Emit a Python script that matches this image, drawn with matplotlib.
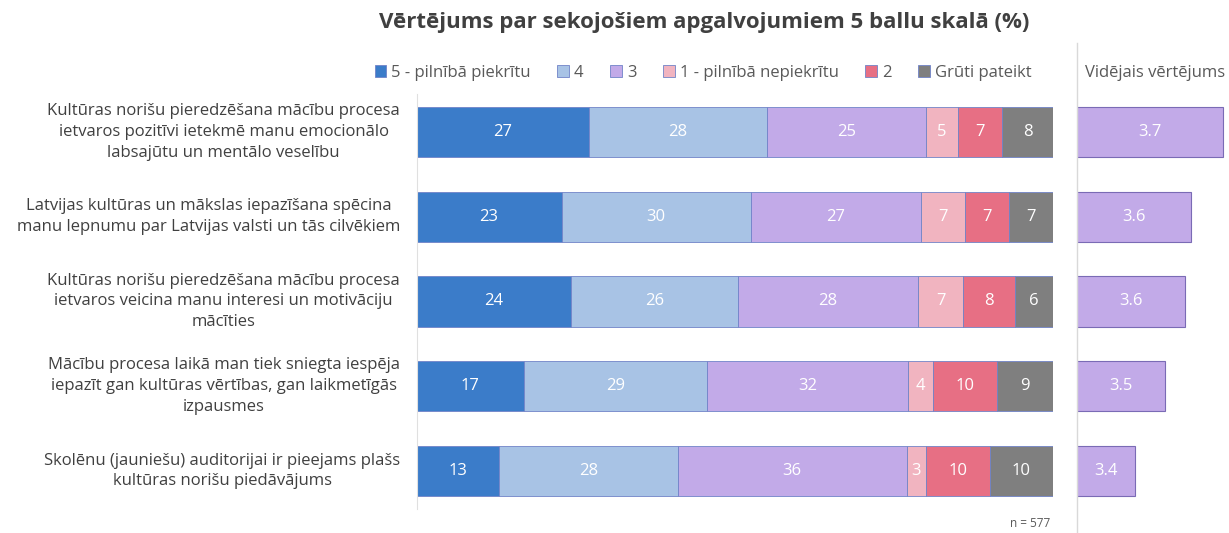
import numpy as np
import matplotlib
matplotlib.use('Agg')
from matplotlib import pyplot as plt
from matplotlib.lines import Line2D

plt.rcParams['font.family'] = ['Open Sans', 'DejaVu Sans']

statements = [
    'Kultūras norišu pieredzēšana mācību procesa\nietvaros pozitīvi ietekmē manu emocionālo\nlabsajūtu un mentālo veselību',
    'Latvijas kultūras un mākslas iepazīšana spēcina\nmanu lepnumu par Latvijas valsti un tās cilvēkiem',
    'Kultūras norišu pieredzēšana mācību procesa\nietvaros veicina manu interesi un motivāciju\nmācīties',
    'Mācību procesa laikā man tiek sniegta iespēja\niepazīt gan kultūras vērtības, gan laikmetīgās\nizpausmes',
    'Skolēnu (jauniešu) auditorijai ir pieejams plašs\nkultūras norišu piedāvājums',
]
categories = ['5 - pilnībā piekrītu', '4', '3', '1 - pilnībā nepiekrītu', '2', 'Grūti pateikt']
colors = ['#3b7cc9', '#a8c3e5', '#c2aae8', '#f1b4c0', '#e76f84', '#7f7f7f']

v5 = [27, 23, 24, 17, 13]
v4 = [28, 30, 26, 29, 28]
v3 = [25, 27, 28, 32, 36]
v1 = [5, 7, 7, 4, 3]
v2 = [7, 7, 8, 10, 10]
vgr = [8, 7, 6, 9, 10]
averages = [3.70, 3.59, 3.57, 3.50, 3.40]

data = np.array([v5, v4, v3, v1, v2, vgr], dtype=float)
shares = data / data.sum(axis=0) * 100

fig = plt.figure(figsize=(12.29, 5.33), dpi=100)
ax = fig.add_axes([0.339, 0.0366, 0.518, 0.7955])
ax2 = fig.add_axes([0.876, 0.0366, 0.124, 0.7955])

y = np.arange(len(statements))
h = 0.59
left = np.zeros(len(statements))
for i in range(len(categories)):
    ax.barh(y, shares[i], left=left, height=h, color=colors[i],
            edgecolor='#7083c8', linewidth=0.6, label=categories[i])
    for j in range(len(statements)):
        ax.text(left[j] + shares[i, j] / 2, y[j], '%d' % data[i, j],
                ha='center', va='center', color='white', fontsize=12)
    left += shares[i]

ax.set_xlim(0, 100)
ax.set_ylim(4.5, -0.5)
ax.set_xticks([])
ax.set_yticks([])
for s in ['top', 'right', 'bottom']:
    ax.spines[s].set_visible(False)
ax.spines['left'].set_color('#e0e0e0')
ax.spines['left'].set_bounds(4.45, -0.45)

for j, txt in enumerate(statements):
    ax.text(-2.6, y[j], txt, ha='right', va='center', multialignment='center',
            fontsize=12, color='#404040', linespacing=1.4)

ax.text(99.5, 4.62, 'n = 577', ha='right', va='center', fontsize=8.5, color='#595959')

# average
ax2.barh(y, averages, height=h, color='#c2aae8', edgecolor='#7a6bb5', linewidth=0.8)
for j in range(len(averages)):
    ax2.text(3.2 + (averages[j] - 3.2) / 2, y[j], '%.1f' % averages[j],
             ha='center', va='center', color='white', fontsize=12)
ax2.set_xlim(3.2, 3.72)
ax2.set_ylim(4.5, -0.5)
ax2.axis('off')

fig.add_artist(Line2D([0.8765, 0.8765], [0.0, 0.92], transform=fig.transFigure,
                      color='#d9d9d9', linewidth=1))
fig.text(0.94, 0.863, 'Vidējais vērtējums', ha='center', va='center',
         fontsize=12, color='#595959')

fig.text(0.573, 0.958, 'Vērtējums par sekojošiem apgalvojumiem 5 ballu skalā (%)',
         ha='center', va='center', fontsize=16, fontweight='bold', color='#404040')

handles, labels = ax.get_legend_handles_labels()
fig.legend(handles, labels, loc='center', bbox_to_anchor=(0.572, 0.863), ncol=6,
           frameon=False, fontsize=12, labelcolor='#595959', handlelength=0.7,
           handleheight=0.7, handletextpad=0.3, columnspacing=1.6)

plt.savefig('out.png', dpi=100)
